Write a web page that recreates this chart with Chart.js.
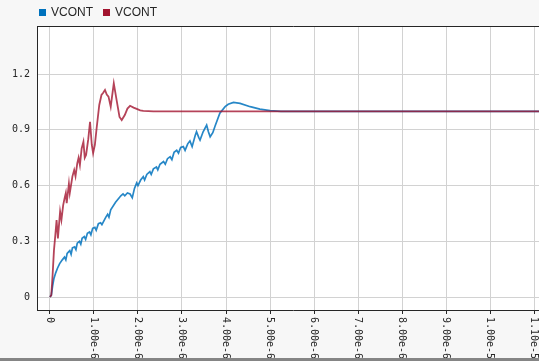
<!DOCTYPE html>
<html>
<head>
<meta charset="utf-8">
<script src="https://cdn.jsdelivr.net/npm/chart.js@4"></script>
<style>
  html, body { margin: 0; padding: 0; background: #f7f7f7; overflow: hidden; }
  #wrap { width: 539px; height: 361px; overflow: hidden; position: relative; }
  canvas { display: block; }
  #edge { position: absolute; left: 0; top: 358px; width: 539px; height: 3px; background: #858585; }
</style>
</head>
<body>
<div id="wrap">
  <canvas id="chart" width="549" height="358"></canvas>
  <div id="edge"></div>
</div>
<script>
// Series names / colours
const seriesNames = ['VCONT', 'VCONT'];
const seriesColors = ['#0072BD', '#A2142F'];

// Blue trace: time (s) and value
const blueT = [0, 0.03e-6, 0.06e-6, 0.09e-6, 0.13e-6, 0.17e-6, 0.22e-6, 0.28e-6, 0.33e-6, 0.36e-6,
  0.39e-6, 0.45e-6, 0.48e-6, 0.51e-6, 0.56e-6, 0.59e-6, 0.62e-6, 0.67e-6, 0.70e-6, 0.73e-6,
  0.78e-6, 0.81e-6, 0.85e-6, 0.90e-6, 0.93e-6, 0.97e-6, 1.02e-6, 1.05e-6, 1.10e-6, 1.15e-6,
  1.18e-6, 1.27e-6, 1.31e-6, 1.34e-6, 1.38e-6, 1.49e-6, 1.61e-6, 1.66e-6, 1.70e-6, 1.76e-6,
  1.82e-6, 1.87e-6, 1.92e-6, 1.97e-6, 2.00e-6, 2.06e-6, 2.12e-6, 2.15e-6, 2.20e-6, 2.27e-6,
  2.30e-6, 2.35e-6, 2.42e-6, 2.45e-6, 2.50e-6, 2.58e-6, 2.62e-6, 2.67e-6, 2.73e-6, 2.77e-6,
  2.82e-6, 2.88e-6, 2.92e-6, 2.97e-6, 3.03e-6, 3.07e-6, 3.13e-6, 3.18e-6, 3.23e-6, 3.30e-6,
  3.33e-6, 3.38e-6, 3.41e-6, 3.48e-6, 3.56e-6, 3.60e-6, 3.64e-6, 3.70e-6, 3.75e-6, 3.86e-6,
  3.98e-6, 4.05e-6, 4.17e-6, 4.32e-6, 4.55e-6, 4.77e-6, 5.00e-6, 5.25e-6, 11.34e-6];
const blueV = [0, 0.01, 0.06, 0.10, 0.13, 0.155, 0.18, 0.20, 0.215, 0.20,
  0.235, 0.25, 0.23, 0.265, 0.27, 0.255, 0.29, 0.30, 0.285, 0.316,
  0.325, 0.31, 0.343, 0.35, 0.335, 0.37, 0.375, 0.36, 0.395, 0.40,
  0.39, 0.43, 0.445, 0.43, 0.47, 0.51, 0.545, 0.555, 0.545, 0.56,
  0.555, 0.535, 0.585, 0.615, 0.60, 0.63, 0.648, 0.63, 0.66, 0.675,
  0.66, 0.69, 0.70, 0.685, 0.715, 0.73, 0.715, 0.745, 0.755, 0.74,
  0.78, 0.79, 0.775, 0.805, 0.81, 0.79, 0.825, 0.84, 0.81, 0.87,
  0.89, 0.86, 0.845, 0.89, 0.926, 0.89, 0.863, 0.885, 0.92, 0.99,
  1.025, 1.038, 1.048, 1.043, 1.025, 1.012, 1.004, 1.0, 1.0];

// Red trace: time (s) and value
const redT = [0, 0.03e-6, 0.06e-6, 0.09e-6, 0.12e-6, 0.15e-6, 0.18e-6, 0.23e-6, 0.26e-6, 0.30e-6,
  0.33e-6, 0.36e-6, 0.38e-6, 0.43e-6, 0.45e-6, 0.51e-6, 0.55e-6, 0.58e-6, 0.62e-6, 0.65e-6,
  0.68e-6, 0.72e-6, 0.76e-6, 0.79e-6, 0.82e-6, 0.87e-6, 0.91e-6, 0.95e-6, 0.98e-6, 1.02e-6,
  1.06e-6, 1.12e-6, 1.17e-6, 1.21e-6, 1.25e-6, 1.29e-6, 1.33e-6, 1.38e-6, 1.45e-6, 1.52e-6,
  1.58e-6, 1.63e-6, 1.70e-6, 1.76e-6, 1.82e-6, 1.90e-6, 1.97e-6, 2.05e-6, 2.12e-6, 2.35e-6, 11.34e-6];
const redV = [0, 0.01, 0.12, 0.25, 0.33, 0.415, 0.316, 0.46, 0.415, 0.495,
  0.53, 0.56, 0.505, 0.61, 0.56, 0.65, 0.684, 0.65, 0.72, 0.75,
  0.71, 0.80, 0.836, 0.75, 0.765, 0.85, 0.944, 0.82, 0.774, 0.82,
  0.909, 1.034, 1.088, 1.10, 1.115, 1.09, 1.079, 1.025, 1.151, 1.052,
  0.97, 0.953, 0.98, 1.015, 1.03, 1.02, 1.013, 1.005, 1.002, 1.0, 1.0];

// Axis ranges and tick steps
const xRange = [-0.295e-6, 11.34e-6];
const yRange = [-0.07, 1.4596];
const xStep = 1e-6;
const yStep = 0.3;

const toPoints = (ts, vs) => ts.map((t, i) => ({ x: t, y: vs[i] }));
const monoFont = '"DejaVu Sans Mono", monospace';

function rgba(hex, a) {
    const n = parseInt(hex.slice(1), 16);
    return `rgba(${n >> 16}, ${(n >> 8) & 255}, ${n & 255}, ${a})`;
}

// plot background, frame, rotated x labels and legend
const decorPlugin = {
    id: 'decor',
    beforeDraw(chart) {
        const { ctx, chartArea: a } = chart;
        ctx.save();
        ctx.fillStyle = '#ffffff';
        ctx.fillRect(a.left, a.top, a.right - a.left, a.bottom - a.top);
        ctx.restore();
    },
    afterDraw(chart) {
        const { ctx, chartArea: a } = chart;
        ctx.save();
        ctx.strokeStyle = '#262626';
        ctx.lineWidth = 1;
        ctx.beginPath();
        ctx.moveTo(a.left + 0.5, a.bottom);
        ctx.lineTo(a.left + 0.5, a.top + 0.5);
        ctx.lineTo(a.right, a.top + 0.5);
        ctx.stroke();

        // x tick labels, reading top to bottom
        const xs = chart.scales.x;
        ctx.fillStyle = '#262626';
        ctx.font = '10px ' + monoFont;
        ctx.textAlign = 'left';
        ctx.textBaseline = 'middle';
        xs.ticks.forEach(t => {
            const px = xs.getPixelForValue(t.value);
            const label = t.value === 0 ? '0' : t.value.toExponential(2);
            ctx.save();
            ctx.translate(px, a.bottom + 7);
            ctx.rotate(Math.PI / 2);
            ctx.fillText(label, 0, 0);
            ctx.restore();
        });

        // legend
        let lx = 39;
        ctx.font = '12px "Liberation Sans", Arial, sans-serif';
        chart.data.datasets.forEach((ds, i) => {
            ctx.fillStyle = seriesColors[i];
            ctx.fillRect(lx, 9, 7, 7);
            ctx.fillStyle = '#262626';
            ctx.fillText(ds.label, lx + 12, 13);
            lx += 12 + ctx.measureText(ds.label).width + 10;
        });
        ctx.restore();
    }
};

new Chart(document.getElementById('chart'), {
    type: 'line',
    data: {
        datasets: [
            {
                label: seriesNames[0],
                data: toPoints(blueT, blueV),
                borderColor: rgba(seriesColors[0], 0.85),
                borderWidth: 1.7,
                pointRadius: 0,
                tension: 0,
                order: 1
            },
            {
                label: seriesNames[1],
                data: toPoints(redT, redV),
                borderColor: rgba(seriesColors[1], 0.8),
                borderWidth: 1.8,
                pointRadius: 0,
                tension: 0,
                order: 0
            }
        ]
    },
    options: {
        responsive: false,
        animation: false,
        layout: { padding: { top: 26, left: 0, right: 0, bottom: 0 } },
        plugins: { legend: { display: false }, tooltip: { enabled: false } },
        scales: {
            x: {
                type: 'linear',
                min: xRange[0],
                max: xRange[1],
                afterFit: (scale) => { scale.height = 48; },
                ticks: { display: false, stepSize: xStep, includeBounds: false },
                grid: { color: '#d2d2d2', drawTicks: true, tickLength: 4, tickColor: '#262626' },
                border: { display: true, color: '#262626' }
            },
            y: {
                min: yRange[0],
                max: yRange[1],
                afterFit: (scale) => { scale.width = 37; },
                ticks: {
                    stepSize: yStep,
                    includeBounds: false,
                    padding: 7,
                    color: '#262626',
                    font: { family: monoFont, size: 10 },
                    callback: (v) => v === 0 ? '0' : Number(v).toFixed(1)
                },
                grid: { color: '#d2d2d2', drawTicks: false },
                border: { display: true, color: '#262626' }
            }
        }
    },
    plugins: [decorPlugin]
});
</script>
</body>
</html>
